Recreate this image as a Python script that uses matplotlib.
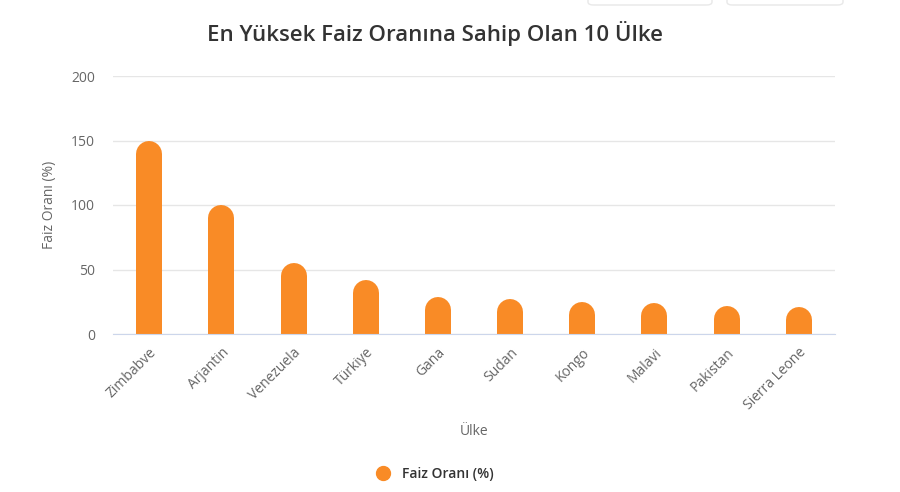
import matplotlib
matplotlib.use('Agg')
import matplotlib.pyplot as plt
from matplotlib.transforms import offset_copy
from matplotlib.lines import Line2D
from matplotlib.patches import FancyBboxPatch

ulkeler = ["Zimbabve", "Arjantin", "Venezuela", "Türkiye", "Gana",
           "Sudan", "Kongo", "Malavi", "Pakistan", "Sierra Leone"]
faiz = [150, 100, 55, 42, 29, 27, 25, 24, 22, 21]
yticks = [0, 50, 100, 150, 200]

turuncu = '#f98b26'
plt.rcParams['font.family'] = ['Open Sans', 'DejaVu Sans']

fig = plt.figure(figsize=(9, 4.92), dpi=100)
ax = fig.add_axes([113/900, 1 - 334/492, 722/900, 258/492])

# sütunlar: yuvarlak başlı kalın çizgi, üstü yarıçap kadar aşağı kaydırılmış
bar_px = 26
tr = offset_copy(ax.transData, fig=fig, y=-bar_px/2, units='dots')
for i, v in enumerate(faiz):
    ax.plot([i, i], [-20, v], color=turuncu, lw=bar_px*72/100,
            solid_capstyle='round', transform=tr, zorder=3)

ax.set_xlim(-0.5, len(ulkeler) - 0.5)
ax.set_ylim(0, 200)
ax.set_yticks(yticks)
ax.set_yticklabels([str(t) for t in yticks], fontsize=10, color='#666666')
ax.set_xticks(range(len(ulkeler)))
ax.set_xticklabels(ulkeler, rotation=45, ha='right', rotation_mode='anchor',
                   fontsize=10, color='#666666')
ax.tick_params(axis='y', length=0, pad=13)
ax.tick_params(axis='x', length=0, pad=8)
ax.grid(axis='y', color='#e6e6e6', lw=1)
ax.set_axisbelow(True)
for s in ['top', 'right', 'left']:
    ax.spines[s].set_visible(False)
ax.spines['bottom'].set_color('#ccd6eb')
ax.spines['bottom'].set_zorder(4)

ax.set_ylabel("Faiz Oranı (%)", fontsize=10, color='#666666', labelpad=10)
ax.set_xlabel("Ülke", fontsize=10, color='#666666', labelpad=8)

fig.text(0.483, 1 - 33/492, "En Yüksek Faiz Oranına Sahip Olan 10 Ülke",
         ha='center', va='center', fontsize=16, color='#333333', fontweight='semibold')

# lejant
h = Line2D([], [], marker='o', color=turuncu, ls='None', markersize=10)
fig.legend([h], ["Faiz Oranı (%)"], loc='center', bbox_to_anchor=(0.479, 1 - 474/492),
           frameon=False, prop={'size': 10, 'weight': 'semibold'}, handletextpad=0.4,
           labelcolor='#333333')

# sağ üstteki soluk düğmeler
for x0, w in [(588, 124), (727, 116)]:
    fig.patches.append(FancyBboxPatch((x0/900, 1 - 5/492), w/900, 12/492,
                                      boxstyle='round,pad=0,rounding_size=0.006',
                                      transform=fig.transFigure, fc='white',
                                      ec='#e8e8e8', lw=1))

fig.savefig('out.png', dpi=100)
